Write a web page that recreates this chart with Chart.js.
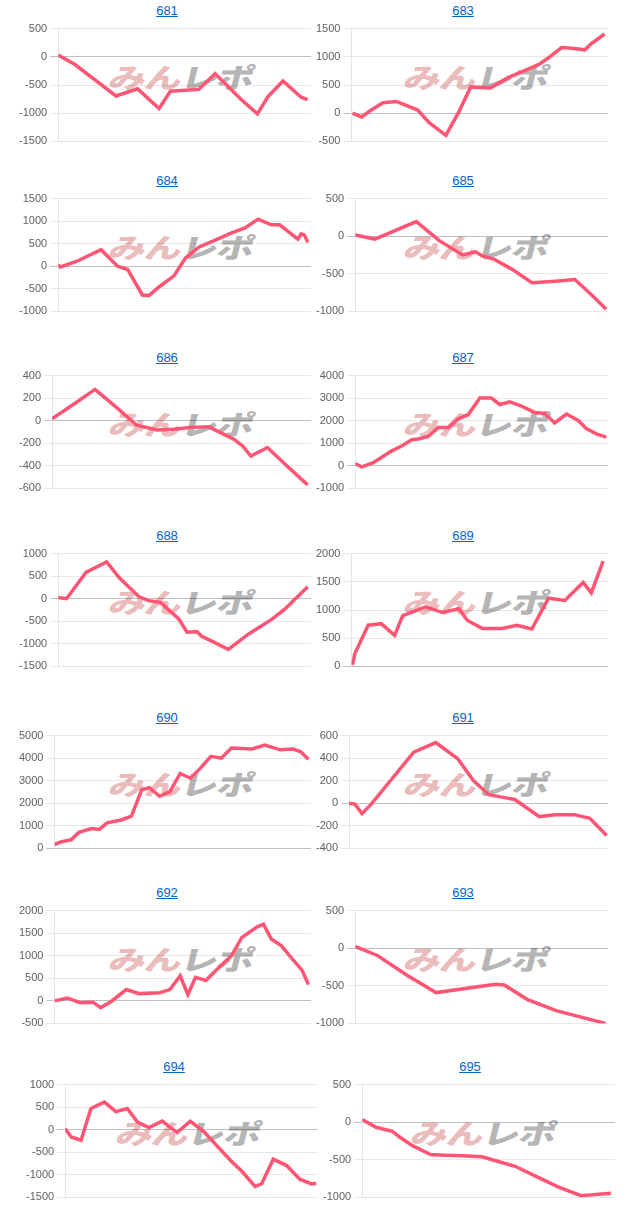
<!DOCTYPE html>
<html>
<head>
<meta charset="utf-8">
<script src="https://cdn.jsdelivr.net/npm/chart.js@4.4.0/dist/chart.umd.min.js"></script>
<style>
  body { margin: 0; background: #fff; width: 627px; height: 1232px; position: relative; overflow: hidden;
         font-family: Arial, "Liberation Sans", sans-serif; }
  .panel { position: absolute; width: 300px; height: 160px; }
  .panel a { position: absolute; top: 4px; line-height: 14px; font-size: 13px; color: #0066cc;
             text-decoration: underline; transform: translateX(-50%); white-space: nowrap; }
  .panel canvas { position: absolute; top: 19px; }
  .wm { position: absolute; transform: translate(-50%, -50%) skewX(-14deg) scaleY(0.74); white-space: nowrap;
        font-family: "Noto Sans CJK JP", sans-serif; font-weight: 900; font-size: 37px; line-height: 37px;
        letter-spacing: -1px; }
  .wm .p { color: #ebbcbc; }
  .wm .g { color: #b5b5b5; }
</style>
</head>
<body>
<script>
// machine numbers (chart titles)
const machines = ["681", "683", "684", "685", "686", "687", "688", "689", "690", "691", "692", "693", "694", "695"];

// y axis ranges per machine
const yMins  = [-1500, -500, -1000, -1000, -600, -1000, -1500, 0, 0, -400, -500, -1000, -1500, -1000];
const yMaxs  = [500, 1500, 1500, 500, 400, 4000, 1000, 2000, 5000, 600, 2000, 500, 1000, 500];
const ySteps = [500, 500, 500, 500, 200, 1000, 500, 500, 1000, 200, 500, 500, 500, 500];

// progress (% of the day) and coin difference for each machine
const x681 = [0, 6.5, 22.9, 31.4, 39.9, 44.4, 55.6, 62.1, 72.5, 78.8, 83.0, 88.9, 96.1, 98.7];
const y681 = [33, -133, -694, -567, -917, -611, -578, -300, -761, -1011, -706, -428, -717, -761];

const x683 = [0.4, 3.9, 7.7, 12.3, 17.4, 20.6, 25.8, 30.3, 36.8, 41.9, 46.5, 54.2, 61.3, 72.9, 76.8, 81.9, 85.8, 91.0, 93.5, 98.7];
const y683 = [0, -67, 56, 185, 208, 152, 56, -169, -393, 28, 466, 449, 635, 860, 983, 1163, 1152, 1124, 1236, 1404];

const x684 = [0, 0.9, 7.2, 17.0, 23.5, 27.5, 33.3, 35.9, 39.9, 45.8, 50.3, 55.6, 62.1, 68.6, 73.9, 79.1, 84.3, 87.6, 90.8, 94.8, 96.1, 97.4, 98.7];
const y684 = [35, -14, 106, 367, 0, -71, -636, -650, -459, -212, 177, 424, 579, 742, 848, 1045, 918, 918, 777, 600, 720, 692, 530];

const x685 = [0, 7.8, 24.2, 33.3, 42.5, 47.7, 50.3, 54.9, 62.1, 69.9, 77.8, 86.9, 90.8, 94.8, 99.3];
const y685 = [17, -38, 195, -59, -250, -208, -263, -305, -441, -619, -602, -576, -695, -822, -970];

const x686 = [0, 8.2, 16.6, 25.0, 32.7, 40.5, 47.0, 53.5, 60.6, 70.4, 73.6, 76.8, 83.2, 89.7, 98.7];
const y686 = [17, 144, 278, 116, -40, -82, -76, -59, -54, -167, -224, -314, -238, -380, -569];

const x687 = [0, 2.6, 7.2, 10.5, 14.5, 18.4, 22.4, 25.0, 28.9, 32.9, 36.8, 40.8, 44.7, 49.3, 53.9, 57.2, 61.2, 65.8, 71.1, 75.0, 78.9, 83.6, 88.2, 91.4, 95.4, 99.3];
const y687 = [99, -42, 142, 382, 666, 878, 1161, 1190, 1303, 1700, 1700, 2082, 2266, 3003, 3003, 2720, 2833, 2649, 2365, 2323, 1898, 2295, 2011, 1657, 1416, 1275];

const x688 = [0, 3.3, 11.1, 19.2, 24.2, 32.0, 35.9, 40.5, 47.7, 51.0, 54.9, 56.9, 60.8, 67.3, 75.2, 84.3, 89.5, 98.7];
const y688 = [28, 0, 590, 815, 463, 42, -42, -84, -449, -744, -730, -836, -941, -1124, -787, -463, -239, 267];

const x689 = [0.4, 1.3, 6.5, 11.6, 16.8, 20.0, 23.9, 29.0, 35.5, 41.9, 45.2, 51.0, 58.7, 64.5, 70.3, 76.8, 83.2, 90.3, 93.5, 98.1];
const y689 = [28, 225, 730, 758, 551, 899, 966, 1056, 955, 1022, 815, 674, 674, 730, 663, 1208, 1169, 1489, 1303, 1865];

const x690 = [0, 2.5, 6.5, 9.5, 14.5, 17.5, 20.5, 26.0, 30.0, 34.0, 37.0, 41.0, 45.0, 49.0, 53.0, 57.0, 61.0, 65.0, 69.0, 77.0, 82.0, 88.0, 93.0, 96.0, 99.0];
const y690 = [170, 290, 380, 710, 880, 840, 1130, 1260, 1430, 2600, 2690, 2310, 2520, 3320, 3110, 3570, 4080, 4000, 4450, 4410, 4580, 4370, 4410, 4280, 3950];

const x691 = [0, 2.3, 5.0, 8.5, 25.0, 33.5, 42.0, 48.0, 54.0, 60.0, 64.0, 73.5, 79.5, 87.0, 93.0, 99.5];
const y691 = [0, -8, -92, -10, 454, 538, 395, 202, 76, 50, 34, -118, -101, -101, -134, -286];

const x692 = [0, 5.0, 10.0, 15.0, 18.0, 22.0, 28.0, 33.0, 41.0, 45.0, 49.0, 52.0, 55.0, 59.0, 63.0, 69.0, 73.0, 79.0, 81.5, 84.5, 88.5, 92.5, 96.5, 99.0];
const y692 = [0, 64, -40, -30, -150, -20, 250, 160, 180, 250, 555, 140, 520, 450, 680, 1000, 1400, 1640, 1700, 1370, 1220, 940, 680, 360];

const x693 = [0, 9.0, 20.5, 32.0, 55.5, 59.0, 68.0, 79.5, 99.0];
const y693 = [25, -100, -360, -590, -480, -490, -680, -830, -1000];

const x694 = [0, 2.4, 6.3, 10.2, 15.5, 20.1, 24.6, 28.6, 33.2, 38.4, 44.3, 49.5, 54.8, 65.9, 69.9, 75.1, 77.7, 82.3, 87.6, 92.8, 97.4, 99.3];
const y694 = [28, -162, -232, 471, 611, 400, 471, 169, 49, 190, -63, 190, -42, -709, -920, -1257, -1201, -653, -794, -1096, -1201, -1187];

const x695 = [0, 5.5, 12.0, 14.7, 19.9, 27.1, 33.0, 39.5, 47.4, 53.9, 60.5, 69.6, 77.5, 86.6, 91.2, 98.4];
const y695 = [34, -67, -122, -194, -312, -430, -438, -447, -459, -522, -586, -733, -859, -977, -965, -944];

const xs = [x681, x683, x684, x685, x686, x687, x688, x689, x690, x691, x692, x693, x694, x695];
const ys = [y681, y683, y684, y685, y686, y687, y688, y689, y690, y691, y692, y693, y694, y695];

// page layout: plot top of each row, horizontal shift of each row
const rowTops   = [26, 196, 373, 551, 733, 908, 1082];
const rowShifts = [0, 0, 0, 0, 0, 0, 7];
const colLeft   = [16, 313];
const canvasW = 295, canvasH = 132;

const zeroLine = c => (c.tick && c.tick.value === 0) ? "rgba(0,0,0,0.25)" : "rgba(0,0,0,0.09)";

machines.forEach((name, i) => {
    const row = Math.floor(i / 2), col = i % 2;
    const left = colLeft[col] + rowShifts[row];
    const top = rowTops[row] - 26;

    const panel = document.createElement("div");
    panel.className = "panel";
    panel.style.left = left + "px";
    panel.style.top = top + "px";
    panel.style.width = canvasW + "px";
    document.body.appendChild(panel);

    // watermark sits under the canvas
    const wm = document.createElement("div");
    wm.className = "wm";
    wm.innerHTML = '<span class="p">みん</span><span class="g">レポ</span>';
    wm.style.left = (col === 0 ? 166 : 164) + "px";
    wm.style.top = "77px";
    panel.appendChild(wm);

    const a = document.createElement("a");
    a.href = "#";
    a.textContent = name;
    a.style.left = (col === 0 ? 151 : 150) + "px";
    panel.appendChild(a);

    const canvas = document.createElement("canvas");
    canvas.width = canvasW;
    canvas.height = canvasH;
    panel.appendChild(canvas);

    new Chart(canvas.getContext("2d"), {
        type: "line",
        data: {
            datasets: [{
                data: xs[i].map((x, k) => ({ x: x, y: ys[i][k] })),
                borderColor: "#ff5574",
                borderWidth: 3.5,
                pointRadius: 0,
                tension: 0,
                fill: false,
            }],
        },
        options: {
            animation: false,
            responsive: false,
            layout: { padding: 0 },
            plugins: { legend: { display: false }, tooltip: { enabled: false } },
            scales: {
                x: { type: "linear", min: 0, max: 100, display: false },
                y: {
                    min: yMins[i],
                    max: yMaxs[i],
                    ticks: {
                        stepSize: ySteps[i],
                        color: "#606060",
                        font: { family: "Arial", size: 11 },
                        callback: v => String(v),
                    },
                    grid: { color: zeroLine },
                    border: { color: "rgba(0,0,0,0.1)" },
                },
            },
        },
    });
});
</script>
</body>
</html>
